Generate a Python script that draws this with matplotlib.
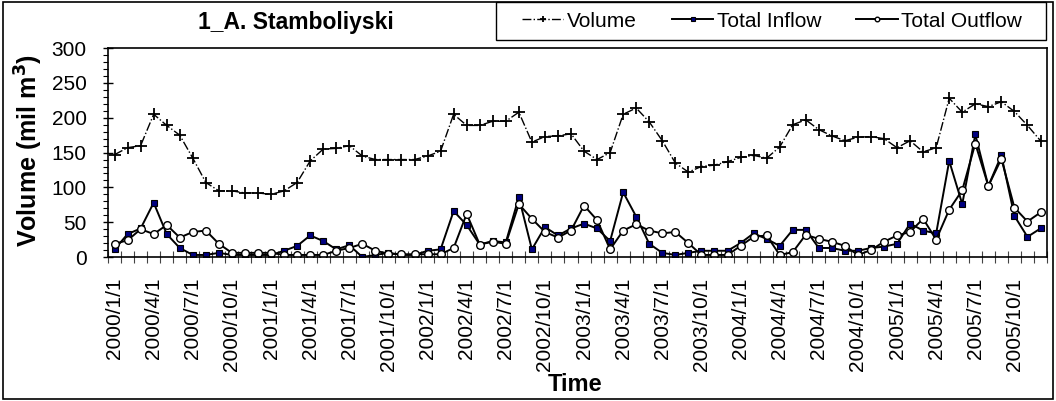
import matplotlib
matplotlib.use("Agg")
import matplotlib.pyplot as plt
from matplotlib.patches import Rectangle
from matplotlib.ticker import MultipleLocator, FixedLocator
import numpy as np

plt.rcParams['font.family'] = ['Liberation Sans', 'DejaVu Sans']

# monthly values, 2000/1 .. 2005/12
volume = [147, 157, 160, 205, 189, 175, 142, 107, 95, 95, 92, 92,
          90, 95, 107, 138, 155, 156, 160, 145, 140, 140, 140, 140,
          145, 152, 205, 189, 189, 195, 195, 208, 165, 173, 174, 177,
          152, 140, 150, 205, 214, 194, 167, 135, 122, 130, 132, 137,
          143, 146, 142, 158, 190, 197, 183, 174, 167, 172, 173, 170,
          157, 167, 151, 157, 228, 208, 220, 216, 223, 209, 189, 167]
inflow = [11, 33, 41, 78, 33, 13, 3, 3, 6, 3, 3, 3,
          3, 9, 16, 31, 23, 11, 17, 0, 3, 6, 3, 3,
          9, 11, 66, 46, 18, 23, 21, 86, 11, 43, 31, 41,
          48, 41, 23, 93, 58, 19, 6, 3, 6, 9, 9, 9,
          20, 34, 26, 16, 39, 39, 13, 13, 9, 9, 13, 15,
          19, 48, 38, 34, 138, 76, 176, 102, 146, 59, 29, 41]
outflow = [19, 24, 40, 33, 46, 28, 36, 38, 19, 6, 6, 6,
           6, 3, 3, 3, 3, 9, 13, 19, 9, 5, 4, 4,
           4, 4, 13, 62, 18, 22, 19, 76, 55, 36, 28, 38,
           74, 53, 11, 38, 47, 38, 34, 36, 20, 3, 3, 3,
           16, 29, 31, 3, 7, 32, 26, 22, 16, 3, 10, 22,
           31, 36, 55, 25, 68, 96, 163, 102, 141, 71, 51, 64]
years = [2000, 2001, 2002, 2003, 2004, 2005]
label_months = [1, 4, 7, 10]

tick_labels = [f"{y}/{m}/1" for y in years for m in label_months]
x = np.arange(len(volume))

fig = plt.figure(figsize=(10.56, 4.01), dpi=100)
ax = fig.add_axes([0.1023, 0.359, 0.8892, 0.521])

ax.plot(x, volume, color='black', lw=1.0, ls='-.', marker='+', ms=8, mew=1.3,
        label='Volume')
ax.plot(x, inflow, color='black', lw=1.4, marker='s', ms=5, mfc='#000080',
        mec='black', mew=0.8, label='Total Inflow')
ax.plot(x, outflow, color='black', lw=1.4, marker='o', ms=5.5, mfc='white',
        mec='black', mew=1.0, label='Total Outflow')

ax.set_xlim(-0.5, len(volume) - 0.5)
ax.set_ylim(0, 300)

ax.set_xticks(x[::3])
ax.set_xticklabels(tick_labels, rotation=90, va='top', ha='center')
ax.xaxis.set_minor_locator(FixedLocator(np.arange(-0.5, len(volume), 1.0)))
ax.tick_params(axis='x', which='major', length=0, pad=15, labelsize=15)
ax.tick_params(axis='x', which='minor', direction='inout', length=8, width=0.8,
               color='#444444')

ax.yaxis.set_major_locator(MultipleLocator(50))
ax.yaxis.set_minor_locator(MultipleLocator(10))
ax.tick_params(axis='y', which='major', direction='inout', length=7, width=1,
               pad=12, labelsize=15)
ax.tick_params(axis='y', which='minor', direction='out', length=3.5, width=0.8)

for s in ax.spines.values():
    s.set_linewidth(1.2)

fig.text(0.027, 0.626, 'Volume (mil m$^\\mathbf{3}$)', rotation=90, ha='center',
         va='center', fontsize=18, fontweight='bold')
fig.text(0.545, 0.040, 'Time', ha='center', va='center', fontsize=17,
         fontweight='bold')
fig.text(0.280, 0.945, '1_A. Stamboliyski', ha='center', va='center',
         fontsize=16.5, fontweight='bold')

# outer frame and legend box
fig.patches.append(Rectangle((0.003, 0.004), 0.994, 0.99, transform=fig.transFigure,
                             fill=False, edgecolor='black', lw=1.2))
fig.patches.append(Rectangle((0.470, 0.900), 0.521, 0.094, transform=fig.transFigure,
                             fill=False, edgecolor='black', lw=1.0))
handles, labels = ax.get_legend_handles_labels()
fig.legend(handles, labels, loc='center', bbox_to_anchor=(0.731, 0.947), ncol=3,
           frameon=False, fontsize=15, handlelength=2.0, handletextpad=0.15,
           columnspacing=1.7, markerscale=0.6)

fig.savefig('out.png', dpi=100)
